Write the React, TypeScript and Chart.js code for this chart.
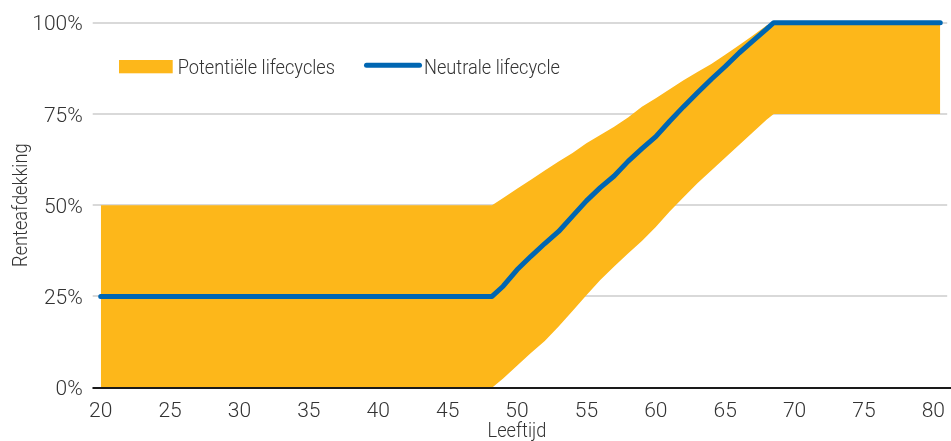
import { useEffect, useRef } from 'react';
import { Chart, registerables } from 'chart.js';

Chart.register(...registerables);

// Age (years) at which each value is taken
const ages = [20, 48.2, 49, 50, 51, 52, 53, 54, 55, 56, 57, 58, 59, 60, 61, 62, 63, 64, 65, 66, 67, 68, 68.5, 80.5];

// Interest-rate hedge ratio (%) of the neutral lifecycle
const neutralLifecycle = [25, 25, 27.8, 32.3, 36, 39.5, 42.8, 47, 51.2, 54.8, 58, 62, 65.5, 68.8, 73, 77, 80.8, 84.5, 88, 91.7, 95, 98.3, 100, 100];

// Upper and lower edge of the band of potential lifecycles (%)
const potentialUpper = [50, 50, 52, 54.5, 57, 59.5, 62, 64.3, 67, 69.2, 71.5, 74, 77, 79.3, 81.8, 84.2, 86.5, 88.7, 91.2, 93.8, 96.5, 99.3, 100, 100];
const potentialLower = [0, 0, 2.5, 6, 9.5, 12.8, 16.8, 21, 25.3, 29.5, 33.2, 36.8, 40.2, 44, 48.3, 52.2, 56, 59.5, 63, 66.5, 70, 73.5, 75, 75];

const xTickValues = [20, 25, 30, 35, 40, 45, 50, 55, 60, 65, 70, 75, 80];
const yTickValues = [0, 25, 50, 75, 100];

const labelBand = 'Potentiële lifecycles';
const labelNeutral = 'Neutrale lifecycle';
const titleX = 'Leeftijd';
const titleY = 'Renteafdekking';

const ORANGE = '#FDB71A';
const BLUE = '#0066B2';
const TEXT = '#333333';
const GRID = '#D9D9D9';
const AXIS = '#1A1A1A';
const FONT = "Roboto, 'Noto Sans', sans-serif";
const WORD_FONT = `300 20px ${FONT}`;
const NUM_FONT = `300 21px ${FONT}`;
const NARROW = 0.91;

type TextOpts = { font: string; align: CanvasTextAlign; sx?: number; rotate?: boolean };

function drawText(ctx: CanvasRenderingContext2D, text: string, x: number, y: number, o: TextOpts) {
  ctx.save();
  ctx.translate(x, y);
  if (o.rotate) ctx.rotate(-Math.PI / 2);
  ctx.scale(o.sx ?? 1, 1);
  ctx.font = o.font;
  ctx.fillStyle = TEXT;
  ctx.textAlign = o.align;
  ctx.textBaseline = 'alphabetic';
  ctx.fillText(text, 0, 0);
  ctx.restore();
}

// Axis labels, axis titles, legend and the dark base line at 0%
const decorPlugin = {
  id: 'lifecycleDecor',
  afterDraw(chart: any) {
    const { ctx, chartArea } = chart;
    const xs = chart.scales.x;
    const ys = chart.scales.y;
    const y0 = ys.getPixelForValue(0);

    ctx.save();
    ctx.strokeStyle = AXIS;
    ctx.lineWidth = 2;
    ctx.beginPath();
    ctx.moveTo(chartArea.left - 8, Math.round(y0));
    ctx.lineTo(chart.width, Math.round(y0));
    ctx.stroke();
    ctx.restore();

    for (const v of yTickValues) {
      drawText(ctx, `${v}%`, chartArea.left - 18, ys.getPixelForValue(v) + 7.6, { font: NUM_FONT, align: 'right' });
    }
    for (const v of xTickValues) {
      drawText(ctx, `${v}`, xs.getPixelForValue(v), chartArea.bottom + 29.6, { font: NUM_FONT, align: 'center' });
    }
    drawText(ctx, titleX, (chartArea.left + chartArea.right) / 2 - 7, chartArea.bottom + 49.3, {
      font: WORD_FONT, align: 'center', sx: NARROW,
    });
    drawText(ctx, titleY, 26.5, (chartArea.top + chartArea.bottom) / 2, {
      font: WORD_FONT, align: 'center', sx: NARROW, rotate: true,
    });

    const lx = chartArea.left + 18.3;
    const ly = chartArea.top + 37.3;
    ctx.save();
    ctx.fillStyle = ORANGE;
    ctx.fillRect(lx, ly, 53.7, 13.3);
    ctx.strokeStyle = BLUE;
    ctx.lineWidth = 5;
    ctx.lineCap = 'round';
    ctx.beginPath();
    ctx.moveTo(lx + 247.5, ly + 5.3);
    ctx.lineTo(lx + 300.5, ly + 5.3);
    ctx.stroke();
    ctx.restore();
    drawText(ctx, labelBand, lx + 58.7, ly + 14.3, { font: WORD_FONT, align: 'left', sx: NARROW });
    drawText(ctx, labelNeutral, lx + 305, ly + 14.3, { font: WORD_FONT, align: 'left', sx: NARROW });
  },
};

export default function App() {
  const canvasRef = useRef<HTMLCanvasElement | null>(null);

  useEffect(() => {
    if (!canvasRef.current) return;
    const chart = new Chart(canvasRef.current, {
      type: 'line',
      data: {
        datasets: [
          {
            label: labelNeutral,
            data: ages.map((x, i) => ({ x, y: neutralLifecycle[i] })),
            borderColor: BLUE,
            borderWidth: 5,
            borderCapStyle: 'round',
            borderJoinStyle: 'round',
            pointRadius: 0,
            tension: 0,
            fill: false,
            order: 0,
            clip: false,
          },
          {
            label: labelBand,
            data: ages.map((x, i) => ({ x, y: potentialUpper[i] })),
            borderWidth: 0,
            borderColor: ORANGE,
            backgroundColor: ORANGE,
            pointRadius: 0,
            tension: 0,
            fill: '+1',
            order: 1,
          },
          {
            label: labelBand,
            data: ages.map((x, i) => ({ x, y: potentialLower[i] })),
            borderWidth: 0,
            borderColor: ORANGE,
            backgroundColor: ORANGE,
            pointRadius: 0,
            tension: 0,
            fill: false,
            order: 2,
          },
        ],
      },
      options: {
        animation: false,
        responsive: true,
        maintainAspectRatio: false,
        layout: { padding: { top: 22.7, right: 3.8, left: 0, bottom: 0 } },
        plugins: {
          legend: { display: false },
          tooltip: { enabled: false },
        },
        scales: {
          x: {
            type: 'linear',
            min: 20,
            max: 81,
            afterBuildTicks: (s: any) => {
              s.ticks = xTickValues.map((value) => ({ value }));
            },
            afterFit: (s: any) => {
              s.height = 53.3;
            },
            grid: { display: false },
            border: { display: true, color: AXIS, width: 2, z: 1 },
            ticks: { display: false },
          },
          y: {
            min: 0,
            max: 100,
            afterBuildTicks: (s: any) => {
              s.ticks = yTickValues.map((value) => ({ value }));
            },
            afterFit: (s: any) => {
              s.width = 100.7;
            },
            grid: {
              color: (c: any) => (c.tick && c.tick.value === 0 ? AXIS : GRID),
              lineWidth: 2,
              tickLength: 8,
            },
            border: { display: false },
            ticks: { display: false },
          },
        },
      },
      plugins: [decorPlugin],
    });
    return () => chart.destroy();
  }, []);

  return (
    <div style={{ position: 'fixed', left: 0, top: 0, width: 951, height: 441, background: '#fff' }}>
      <canvas ref={canvasRef} />
    </div>
  );
}
